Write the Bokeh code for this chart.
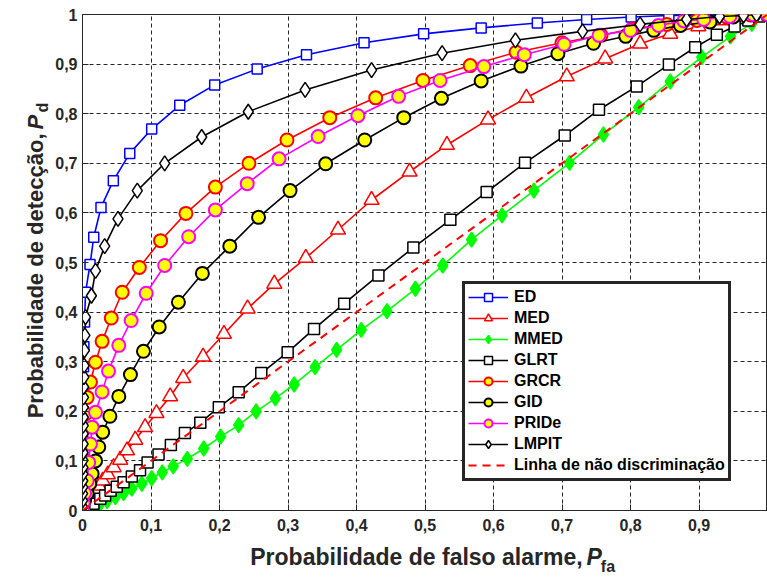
import math
from bokeh.plotting import figure
from bokeh.layouts import row, column
from bokeh.models import Range1d, FixedTicker, CustomJSTickFormatter
from bokeh.core.properties import value
from bokeh.embed import file_html
from bokeh.resources import INLINE

# ---------------- data ----------------
ticks = [0, 0.1, 0.2, 0.3, 0.4, 0.5, 0.6, 0.7, 0.8, 0.9, 1.0]

ed_x = [0, 0.00005, 0.00015, 0.0003, 0.0006, 0.001, 0.0015, 0.002, 0.003, 0.0044, 0.011, 0.0164, 0.027, 0.045,
        0.069, 0.101, 0.142, 0.193, 0.255, 0.327, 0.411, 0.498, 0.582, 0.664, 0.736, 0.801, 0.856,
        0.900, 0.937, 0.965, 0.985, 1.0]
ed_y = [0, 0.05, 0.10, 0.15, 0.20, 0.25, 0.29, 0.33, 0.38, 0.44, 0.496, 0.551, 0.611, 0.665,
        0.720, 0.769, 0.817, 0.858, 0.890, 0.919, 0.943, 0.961, 0.973, 0.983, 0.990, 0.995, 0.998,
        0.998, 0.999, 1.0, 1.0, 1.0]

med_x = [0, 0.002, 0.005, 0.009, 0.013, 0.018, 0.0237, 0.0295, 0.037, 0.0455, 0.055, 0.065, 0.077,
         0.0914, 0.108, 0.128, 0.147, 0.176, 0.2065, 0.241, 0.28, 0.326, 0.373, 0.422, 0.4775, 0.532,
         0.592, 0.648, 0.707, 0.763, 0.814, 0.858, 0.899, 0.936, 0.968, 1.0]
med_y = [0, 0.005, 0.012, 0.02, 0.03, 0.042, 0.05, 0.06, 0.0726, 0.087, 0.102, 0.121, 0.1425,
         0.168, 0.196, 0.23, 0.267, 0.31, 0.356, 0.407, 0.457, 0.509, 0.566, 0.626, 0.683, 0.737,
         0.788, 0.832, 0.875, 0.911, 0.941, 0.961, 0.976, 0.988, 0.996, 1.0]

mmed_x = [0, 0.005, 0.014, 0.024, 0.036, 0.048, 0.06, 0.072, 0.0866, 0.101, 0.1165, 0.1325, 0.153,
          0.177, 0.2017, 0.228, 0.2535, 0.2816, 0.309, 0.3396, 0.371, 0.407, 0.4445, 0.486, 0.526,
          0.568, 0.6125, 0.659, 0.711, 0.7605, 0.812, 0.858, 0.904, 0.946, 0.977, 1.0]
mmed_y = [0, 0.001, 0.003, 0.01, 0.019, 0.027, 0.035, 0.044, 0.054, 0.065, 0.077, 0.089, 0.104,
          0.125, 0.149, 0.172, 0.2, 0.226, 0.254, 0.289, 0.324, 0.364, 0.402, 0.447, 0.494,
          0.546, 0.595, 0.645, 0.701, 0.758, 0.813, 0.865, 0.914, 0.956, 0.981, 1.0]

glrt_x = [0, 0.004, 0.009, 0.016, 0.026, 0.033, 0.041, 0.05, 0.06, 0.072, 0.084, 0.095, 0.111, 0.129,
          0.1495, 0.172, 0.199, 0.228, 0.261, 0.2995, 0.338, 0.382, 0.432, 0.483, 0.537, 0.59, 0.646,
          0.704, 0.754, 0.809, 0.856, 0.8945, 0.926, 0.952, 0.972, 0.988, 1.0]
glrt_y = [0, 0.005, 0.01, 0.0135, 0.0235, 0.03, 0.04, 0.048, 0.057, 0.0685, 0.081, 0.097, 0.113, 0.132,
          0.156, 0.177, 0.208, 0.2385, 0.277, 0.319, 0.366, 0.417, 0.474, 0.53, 0.586, 0.642, 0.701,
          0.756, 0.808, 0.855, 0.899, 0.934, 0.959, 0.976, 0.988, 0.996, 1.0]

grcr_x = [0, 0.0002, 0.0004, 0.0007, 0.001, 0.0015, 0.0025, 0.0045, 0.0068, 0.0116, 0.019, 0.0286,
          0.042, 0.058, 0.083, 0.114, 0.151, 0.194, 0.243, 0.2985, 0.361, 0.428, 0.497, 0.566, 0.633,
          0.70, 0.757, 0.803, 0.853, 0.897, 0.94, 0.975, 1.0]
grcr_y = [0, 0.02, 0.045, 0.077, 0.104, 0.134, 0.165, 0.195, 0.228, 0.259, 0.299, 0.341,
          0.388, 0.44, 0.49, 0.544, 0.599, 0.652, 0.70, 0.747, 0.792, 0.832, 0.867, 0.897, 0.924,
          0.943, 0.958, 0.971, 0.98, 0.988, 0.995, 0.999, 1.0]

gid_x = [0, 0.001, 0.003, 0.0068, 0.0106, 0.014, 0.019, 0.0237, 0.0295, 0.040, 0.053, 0.070, 0.089,
         0.112, 0.14, 0.175, 0.215, 0.257, 0.303, 0.355, 0.412, 0.469, 0.524, 0.582, 0.64, 0.694,
         0.746, 0.793, 0.834, 0.873, 0.916, 0.950, 0.98, 1.0]
gid_y = [0, 0.008, 0.02, 0.034, 0.054, 0.074, 0.10, 0.128, 0.158, 0.19, 0.23, 0.274, 0.321,
         0.37, 0.42, 0.478, 0.533, 0.591, 0.645, 0.699, 0.747, 0.792, 0.831, 0.866, 0.896, 0.921,
         0.942, 0.956, 0.968, 0.978, 0.985, 0.995, 0.999, 1.0]

pride_x = [0, 0.001, 0.003, 0.0068, 0.009, 0.0116, 0.014, 0.019, 0.0286, 0.038, 0.053, 0.071, 0.093,
           0.120, 0.155, 0.194, 0.2405, 0.287, 0.344, 0.402, 0.4615, 0.522, 0.586, 0.645, 0.703,
           0.754, 0.80, 0.841, 0.878, 0.907, 0.945, 0.979, 1.0]
pride_y = [0, 0.015, 0.035, 0.06, 0.097, 0.134, 0.168, 0.198, 0.239, 0.281, 0.333, 0.383, 0.438,
           0.494, 0.552, 0.606, 0.659, 0.709, 0.754, 0.796, 0.835, 0.867, 0.895, 0.919, 0.94,
           0.958, 0.968, 0.978, 0.987, 0.990, 0.996, 1.0, 1.0]

lmpit_x = [0, 0.0001, 0.0002, 0.0003, 0.0004, 0.0005, 0.0006, 0.0007, 0.0008, 0.0009, 0.001, 0.0011,
           0.0012, 0.0013, 0.0015, 0.0017, 0.002, 0.0024, 0.0028, 0.0035, 0.0044, 0.013, 0.019, 0.0324,
           0.0518, 0.080, 0.120, 0.174, 0.242, 0.325, 0.422, 0.525, 0.632, 0.730, 0.814, 0.882, 0.930,
           0.965, 0.984]
lmpit_y = [0.007, 0.02, 0.034, 0.047, 0.06, 0.074, 0.087, 0.101, 0.117, 0.134, 0.155, 0.171,
           0.188, 0.208, 0.228, 0.249, 0.269, 0.292, 0.323, 0.353, 0.39, 0.433, 0.483, 0.533,
           0.588, 0.645, 0.70, 0.753, 0.804, 0.848, 0.888, 0.922, 0.948, 0.966, 0.98, 0.99, 0.996,
           0.998, 1.0]

chance_x = [0, 1]
chance_y = [0, 1]

x_title = ["Probabilidade de falso alarme,", "P", "fa"]
y_title = ["Probabilidade de detecção,", "P", "d"]

# ---------------- layout constants ----------------
W, H = 767, 579
YL_W = 52            # width of the left strip holding the y title
MAIN_H = 540         # height of main figure
XL_H = H - MAIN_H    # strip holding the x title
SANS = "Liberation Sans"
DARK = "#262626"

# ---------------- main figure ----------------
p = figure(width=W - YL_W, height=MAIN_H, x_range=Range1d(0, 1), y_range=Range1d(0, 1),
           output_backend="svg", toolbar_location=None,
           min_border_left=82 - YL_W, min_border_right=0, min_border_top=14, min_border_bottom=30)
p.background_fill_color = "white"
p.border_fill_color = "white"
p.outline_line_color = DARK
p.outline_line_width = 1

fmt_x = CustomJSTickFormatter(code="""
if (Math.abs(tick) < 1e-9) return '0';
if (Math.abs(tick - 1) < 1e-9) return '';
return tick.toFixed(1).replace('.', ',');
""")
fmt_y = CustomJSTickFormatter(code="""
if (Math.abs(tick) < 1e-9) return '0';
if (Math.abs(tick - 1) < 1e-9) return '1';
return tick.toFixed(1).replace('.', ',');
""")

for ax, fmt in ((p.xaxis[0], fmt_x), (p.yaxis[0], fmt_y)):
    ax.ticker = FixedTicker(ticks=ticks)
    ax.formatter = fmt
    ax.axis_line_color = DARK
    ax.major_tick_line_color = DARK
    ax.major_tick_in = 6
    ax.major_tick_out = 0
    ax.minor_tick_line_color = None
    ax.major_label_text_font = SANS
    ax.major_label_text_font_style = "bold"
    ax.major_label_text_font_size = "16px"
    ax.major_label_text_color = DARK
    ax.axis_label = None
p.xaxis.major_label_standoff = 8
p.yaxis.major_label_standoff = 5

for g in (p.xgrid[0], p.ygrid[0]):
    g.ticker = FixedTicker(ticks=ticks)
    g.grid_line_color = DARK
    g.grid_line_dash = "4 3"
    g.grid_line_width = 1

LW = 1.6

def series(x, y, label, color, marker, size, fill, lw_m=1.5):
    assert len(x) == len(y)
    p.line(x, y, line_color=color, line_width=LW, legend_label=label)
    p.scatter(x, y, marker=marker, size=size, fill_color=fill,
              line_color=color, line_width=lw_m, legend_label=label)

series(ed_x, ed_y, "ED", "#0000ff", "square", 10, "white")
series(med_x, med_y, "MED", "#ff0000", "triangle", 15, "white")
series(mmed_x, mmed_y, "MMED", "#00ff00", "diamond", 15, "#00ff00")
series(glrt_x, glrt_y, "GLRT", "black", "square", 11, "white")
series(grcr_x, grcr_y, "GRCR", "#ff0000", "circle", 13, "#ffff00", lw_m=2)
series(gid_x, gid_y, "GID", "black", "circle", 13, "#ffff00", lw_m=2)
series(pride_x, pride_y, "PRIDe", "#ff00ff", "circle", 13, "#ffff00", lw_m=2)
series(lmpit_x, lmpit_y, "LMPIT", "black", "diamond", 15, "white")
p.line(chance_x, chance_y, line_color="#ff0000", line_width=2, line_dash="8 6",
       legend_label="Linha de não discriminação")

lg = p.legend[0]
lg.location = (380, 29)
lg.border_line_color = DARK
lg.border_line_alpha = 1.0
lg.border_line_width = 3
lg.background_fill_color = "white"
lg.background_fill_alpha = 1
lg.label_text_font = SANS
lg.label_text_font_style = "bold"
lg.label_text_font_size = "16px"
lg.label_text_color = "black"
lg.glyph_width = 40
lg.glyph_height = 20
lg.label_height = 20
lg.spacing = 1
lg.padding = 3
lg.margin = 0
lg.label_standoff = 6

# ---------------- title strips (text glyphs in their own pixel-space figures) ----------------
def strip(w, h):
    f = figure(width=w, height=h, x_range=Range1d(0, w), y_range=Range1d(0, h),
               output_backend="svg", toolbar_location=None,
               min_border_left=0, min_border_right=0, min_border_top=0, min_border_bottom=0)
    f.axis.visible = False
    f.grid.visible = False
    f.outline_line_color = None
    f.background_fill_color = "white"
    f.border_fill_color = "white"
    return f

# x title strip: canvas x YL_W..767, y MAIN_H..579 (coordinates = pixel offsets)
xl = strip(W - YL_W, XL_H)
def xs(px):
    return px - YL_W
def ysx(py):
    return H - py
xl.text(x=[xs(574)], y=[ysx(556)], text=[x_title[0]], text_align="right", text_baseline="alphabetic",
        text_font=value(SANS), text_font_style="bold", text_font_size="23px", text_color=DARK)
xl.text(x=[xs(578)], y=[ysx(556)], text=[x_title[1]], text_align="left", text_baseline="alphabetic",
        text_font=value(SANS), text_font_style="bold italic", text_font_size="23px", text_color=DARK)
xl.text(x=[xs(593)], y=[ysx(566)], text=[x_title[2]], text_align="left", text_baseline="alphabetic",
        text_font=value(SANS), text_font_style="bold", text_font_size="16px", text_color=DARK)

# y title strip: canvas x 0..YL_W, y 0..579
yl = strip(YL_W, H)
def ys(py):
    return H - py
yl.text(x=[35], y=[ys(133)], text=[y_title[0]], text_align="right", text_baseline="alphabetic",
        angle=math.pi / 2, text_font=value(SANS), text_font_style="bold", text_font_size="22px",
        text_color=DARK)
yl.text(x=[35], y=[ys(129)], text=[y_title[1]], text_align="left", text_baseline="alphabetic",
        angle=math.pi / 2, text_font=value(SANS), text_font_style="bold italic", text_font_size="22px",
        text_color=DARK)
yl.text(x=[42], y=[ys(112)], text=[y_title[2]], text_align="left", text_baseline="alphabetic",
        angle=math.pi / 2, text_font=value(SANS), text_font_style="bold", text_font_size="16px",
        text_color=DARK)

layout = row(yl, column(p, xl, spacing=0), spacing=0)
open("out.html", "w").write(file_html(layout, INLINE))
